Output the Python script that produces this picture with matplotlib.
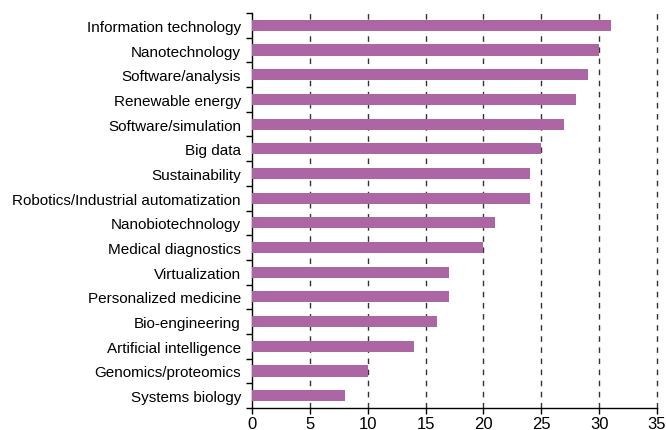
import matplotlib
matplotlib.use("Agg")
import matplotlib.pyplot as plt
import numpy as np

categories = ["Information technology", "Nanotechnology", "Software/analysis",
              "Renewable energy", "Software/simulation", "Big data", "Sustainability",
              "Robotics/Industrial automatization", "Nanobiotechnology",
              "Medical diagnostics", "Virtualization", "Personalized medicine",
              "Bio-engineering", "Artificial intelligence", "Genomics/proteomics",
              "Systems biology"]
values = [31, 30, 29, 28, 27, 25, 24, 24, 21, 20, 17, 17, 16, 14, 10, 8]
xticks = [0, 5, 10, 15, 20, 25, 30, 35]

plt.rcParams['font.family'] = ['Liberation Sans', 'DejaVu Sans']

fig = plt.figure(figsize=(6.66, 4.31), dpi=100)
ax = fig.add_axes([0.3784, 0.051, 0.6081, 0.9165])

n = len(categories)
y = np.arange(n)[::-1]
ax.barh(y, values, height=0.45, color="#AC66A4", zorder=3)

ax.set_xlim(0, 35)
ax.set_ylim(-0.5, n - 0.5)
ax.set_xticks(xticks)
ax.set_xticklabels([str(t) for t in xticks], fontsize=12)
ax.set_yticks(y)
ax.set_yticklabels(categories, fontsize=11)
ax.set_yticks(np.arange(n + 1) - 0.5, minor=True)
ax.tick_params(axis='y', which='major', length=0, pad=8)
ax.tick_params(axis='y', which='minor', length=4, width=1, direction='out')
ax.tick_params(axis='x', length=4, width=1, direction='out', pad=2)

for t in xticks[1:]:
    ax.axvline(t, color="#333333", linestyle=(0, (4, 4)), linewidth=1, zorder=1,
               clip_on=False)

for s in ['top', 'right']:
    ax.spines[s].set_visible(False)
ax.spines['left'].set_linewidth(1)
ax.spines['bottom'].set_linewidth(1)

fig.savefig("out.png", dpi=100)
